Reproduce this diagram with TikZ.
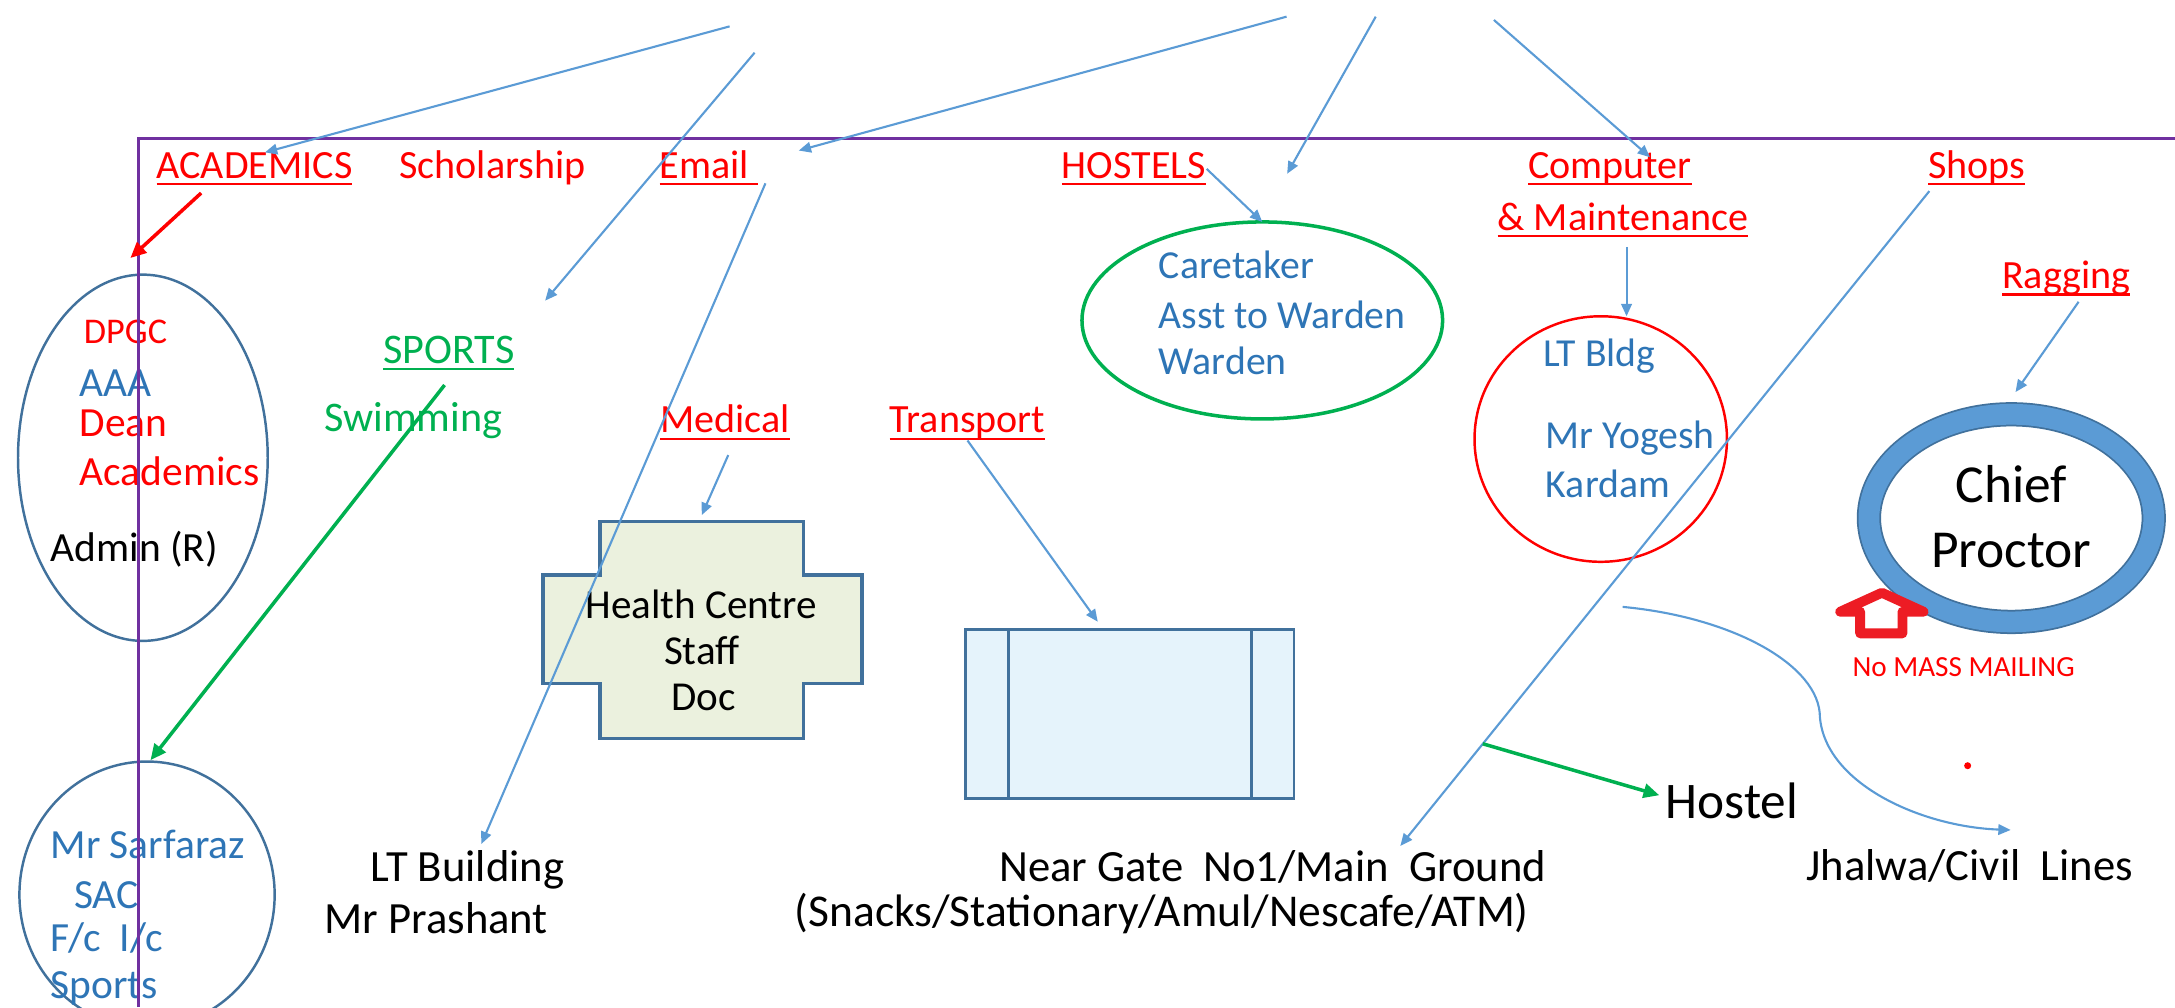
\documentclass[tikz,border=0pt]{standalone}
\usepackage{fontspec}
\setmainfont{Carlito}
\usetikzlibrary{shapes.geometric,arrows.meta,calc}
\definecolor{linkblue}{HTML}{5B9BD5}
\definecolor{shapeblue}{HTML}{41719C}
\definecolor{txtblue}{HTML}{2E75B6}
\definecolor{txtred}{HTML}{FF0000}
\definecolor{txtgreen}{HTML}{00B050}
\definecolor{framepurple}{HTML}{7030A0}
\definecolor{crossfill}{HTML}{EBF1DE}
\definecolor{busfill}{HTML}{E5F3FB}
\definecolor{arrowred}{HTML}{ED1C24}
\newcommand{\undl}[1]{\setbox0=\hbox{#1}\rlap{\rule[-2pt]{\wd0}{0.6pt}}\box0}
\begin{document}
\begin{tikzpicture}[x=0.01387cm,y=-0.01387cm]
\tikzstyle{head_style} = [text=txtred, inner sep=0, anchor=base, font=\fontsize{11.4}{13}\selectfont]
\tikzstyle{green_style} = [text=txtgreen, inner sep=0, anchor=base, font=\fontsize{12}{14}\selectfont]
\tikzstyle{name_style} = [inner sep=0, anchor=base west, font=\fontsize{11.8}{14}\selectfont]
\tikzstyle{staff_style} = [text=txtblue, inner sep=0, anchor=base west, font=\fontsize{11.3}{13}\selectfont]
\tikzstyle{place_style} = [inner sep=0, anchor=base, font=\fontsize{12.7}{15}\selectfont]
\tikzstyle{big_style} = [inner sep=0, anchor=base, font=\fontsize{15}{18}\selectfont]
\tikzstyle{oval_style} = [draw=shapeblue, ellipse, inner sep=0, outer sep=0, line width=0.7pt]
\tikzstyle{edge_style} = [linkblue, line width=0.6pt, -{Triangle[length=3.5pt,width=3pt]}]
\tikzstyle{green_edge} = [txtgreen, line width=1pt, -{Triangle[length=4.5pt,width=4pt]}]
\tikzstyle{red_edge} = [txtred, line width=1pt, -{Triangle[length=4.5pt,width=4pt]}]
    \useasboundingbox (0,0) rectangle (1568,726);

    % shapes
    \node[oval_style, minimum width=2.497cm, minimum height=3.662cm] (acadoval) at (103,330) {};
    \node[oval_style, minimum width=2.552cm, minimum height=2.663cm] (sacoval) at (106,645) {};
    \node[oval_style, draw=txtgreen, line width=1pt, minimum width=3.606cm, minimum height=1.970cm] (wardenoval) at (910,231) {};
    \node[oval_style, draw=txtred, minimum width=2.524cm, minimum height=2.455cm] (compcirc) at (1154,316.5) {};
    \node[oval_style, line width=0.5pt, double=linkblue, double distance=5.9pt, minimum width=2.848cm, minimum height=2.076cm] (proctor) at (1450,373.5) {};

    \node[inner sep=0, outer sep=0, minimum width=2.033cm, minimum height=2.168cm] (health) at (505.9,454.2) {};
    \draw[shapeblue, line width=1pt, fill=crossfill] (health.north west) -- (health.north east)
        -- ($(health.north east)+(0,38.6)$) -- ++(42.1,0) -- ++(0,78.1) -- ++(-42.1,0)
        -- (health.south east) -- (health.south west)
        -- ($(health.south west)+(0,-39.6)$) -- ++(-41.3,0) -- ++(0,-78.1) -- ++(41.3,0) -- cycle;

    \node[draw=shapeblue, fill=busfill, line width=0.8pt, inner sep=0, outer sep=0, minimum width=3.287cm, minimum height=1.689cm] (bus) at (814.4,514.7) {};
    \draw[shapeblue, line width=0.8pt] ($(bus.north west)+(31,0)$) -- ($(bus.south west)+(31,0)$);
    \draw[shapeblue, line width=0.8pt] ($(bus.north east)+(-30.4,0)$) -- ($(bus.south east)+(-30.4,0)$);

    % headings
    \node[head_style] (acad) at (183.5,128.6) {\undl{ACADEMICS}};
    \node[head_style] (scholar) at (355,128.6) {Scholarship};
    \node[head_style, anchor=base west] (email) at (475,128.6) {\undl{Email\ }};
    \node[head_style] (hostels) at (817.5,128.6) {\undl{HOSTELS}};
    \node[head_style] (computer) at (1160.5,128.6) {\undl{Computer}};
    \node[head_style] (maint) at (1170,166) {\undl{\& Maintenance}};
    \node[head_style] (shops) at (1425,128.6) {\undl{Shops}};
    \node[head_style] (ragging) at (1489.5,208) {\undl{Ragging}};
    \node[head_style] (medical) at (522.5,312) {\undl{Medical}};
    \node[head_style] (transport) at (697.5,312) {\undl{Transport}};
    \node[green_style] (sports) at (323.5,262) {\undl{SPORTS}};
    \node[green_style] (swim) at (298,311) {Swimming};

    % people
    \node[name_style, text=txtred, font=\fontsize{10.3}{12}\selectfont] (dpgc) at (60,247.6) {DPGC};
    \node[name_style, text=txtblue] (aaa) at (57,286) {AAA};
    \node[name_style, text=txtred] (dean) at (57,315) {Dean};
    \node[name_style, text=txtred] (academics) at (57,350) {Academics};
    \node[name_style] (admin) at (36,405) {Admin (R)};
    \node[name_style, text=txtblue] (sarfaraz) at (36,619) {Mr Sarfaraz};
    \node[name_style, text=txtblue] (sac) at (53,655) {SAC};
    \node[name_style, text=txtblue] (fcic) at (36,686) {F/c\ \ I/c};
    \node[name_style, text=txtblue] (sportsic) at (36,720) {Sports};
    \node[staff_style] (caretaker) at (835,200.7) {Caretaker};
    \node[staff_style] (asst) at (835,237) {Asst to Warden};
    \node[staff_style] (warden) at (835,270) {Warden};
    \node[staff_style] (ltbldg) at (1112,264) {LT Bldg};
    \node[staff_style] (yogesh) at (1114,323) {Mr Yogesh};
    \node[staff_style] (kardam) at (1114,359) {Kardam};
    \node[place_style, font=\fontsize{11.7}{14}\selectfont] (healthtxt) at (505.5,445.6) {Health Centre};
    \node[place_style, font=\fontsize{11.7}{14}\selectfont] (stafftxt) at (506,479) {Staff};
    \node[place_style, font=\fontsize{11.7}{14}\selectfont] (doctxt) at (507,512) {Doc};
    \node[big_style, font=\fontsize{15.2}{18}\selectfont] (chief) at (1450,362) {Chief};
    \node[big_style, font=\fontsize{15.2}{18}\selectfont] (proctortxt) at (1450,409) {Proctor};
    \node[place_style, text=txtred, font=\fontsize{8.3}{10}\selectfont] (nomass) at (1415.6,488) {No MASS MAILING};

    % places
    \node[place_style] (ltbuild) at (337,635.7) {LT Building};
    \node[place_style] (prashant) at (314.5,673) {Mr Prashant};
    \node[place_style] (neargate) at (917.5,635.7) {Near Gate\ \ No1/Main\ \ Ground};
    \node[place_style, font=\fontsize{12.95}{15}\selectfont] (snacks) at (837.5,668) {(Snacks/Stationary/Amul/Nescafe/ATM)};
    \node[big_style, font=\fontsize{14.6}{17}\selectfont] (hostel) at (1248.5,590) {Hostel};
    \node[place_style] (jhalwa) at (1420,634.5) {Jhalwa/Civil\ \ Lines};

    \draw[arrowred, line width=2.8pt, line join=round, fill=white] (1356.7,427.3) -- (1386.7,441) -- (1371.5,441)
        -- (1371.5,456.6) -- (1341,456.6) -- (1341,441) -- (1326.6,441) -- cycle;
    \node[circle, fill=txtred, inner sep=0, minimum size=0.07cm] (dot) at (1418.5,552) {};

    \draw[framepurple, line width=1pt] (100,726) -- (100,100) -- (1568,100);

    \coordinate (t1) at (526,19);
    \coordinate (t2) at (544,38);
    \coordinate (t3) at (927.5,12);
    \coordinate (t4) at (991.8,12);
    \coordinate (t5) at (1077,14.4);
    \coordinate (curvestart) at (1169.8,437.5);

    \draw[edge_style] (t1) -- ($(acad.north)+(7.5,0.5)$);
    \draw[edge_style] (t2) -- ($(sports.north)+(69.5,-25)$);
    \draw[edge_style] (t3) -- ($(email.north east)+(29,0.5)$);
    \draw[edge_style] (t4) -- ($(hostels.east)+(58,3.5)$);
    \draw[edge_style] (t5) -- ($(computer.north)+(29,4)$);
    \draw[edge_style] ($(email.south east)+(5,-2)$) -- ($(ltbuild.north)+(10,-4.4)$);
    \draw[edge_style] (hostels.east) -- (wardenoval.north);
    \draw[edge_style] ($(maint.south)+(2.6,6.4)$) -- ($(compcirc.north)+(18.6,0)$);
    \draw[edge_style] ($(shops.south west)+(1.4,3.6)$) -- coordinate[pos=0.844] (fork) ($(neargate.north)+(92,-3)$);
    \draw[edge_style] ($(ragging.south)+(9,4)$) -- ($(proctor.north)+(3,-16)$);
    \draw[edge_style] ($(medical.south)+(2.5,10.5)$) -- ($(health.north)+(0,-4.7)$);
    \draw[edge_style] (transport.south) -- ($(bus.north)+(-23,-5.6)$);
    \draw[edge_style] (curvestart) .. controls (1250,445) and (1312,480) .. (1312,517)
        .. controls (1316,565) and (1385,596) .. ($(jhalwa.north)+(29.5,-13.3)$);

    \draw[green_edge] (fork) -- ($(hostel.west)+(-4,-4)$);
    \draw[green_edge] ($(sports.south)+(-3,10)$) -- ($(sacoval.north)+(2.5,-1)$);
    \draw[red_edge] ($(acad.south)+(-38.5,5)$) -- ($(acadoval.north)+(-9,-12)$);
\end{tikzpicture}
\end{document}
